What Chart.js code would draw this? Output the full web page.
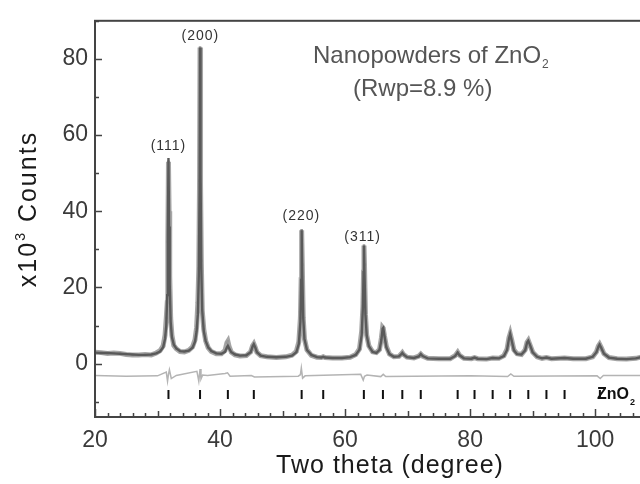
<!DOCTYPE html>
<html>
<head>
<meta charset="utf-8">
<script src="https://cdn.jsdelivr.net/npm/chart.js@4.4.1/dist/chart.umd.min.js"></script>
<style>
    html, body { margin: 0; padding: 0; background: #fff; overflow: hidden; }
    canvas { display: block; }
</style>
</head>
<body>
<canvas id="graficoXRD" width="700" height="484"></canvas>
<script>
// 2theta (deg) and intensities (x10^3 counts)
const twoTheta = [20.0, 21.0, 22.0, 23.0, 24.0, 25.0, 26.0, 27.0, 28.0, 29.0, 29.8, 30.4, 30.9, 31.2, 31.4, 31.55, 31.65, 31.75, 31.85, 31.95, 32.1, 32.3, 32.6, 33.0, 33.6, 34.3, 35.0, 35.6, 36.0, 36.25, 36.45, 36.6, 36.72, 36.8, 36.88, 37.0, 37.15, 37.4, 37.7, 38.1, 38.6, 39.4, 40.2, 40.8, 41.1, 41.25, 41.45, 41.8, 42.4, 43.2, 44.2, 44.9, 45.2, 45.4, 45.6, 45.9, 46.5, 47.5, 49.0, 50.5, 51.5, 52.2, 52.6, 52.85, 52.97, 53.05, 53.15, 53.3, 53.5, 53.9, 54.6, 55.5, 56.2, 56.5, 56.8, 58.0, 59.5, 60.8, 61.7, 62.3, 62.65, 62.85, 62.95, 63.02, 63.1, 63.25, 63.45, 63.8, 64.4, 65.0, 65.5, 65.8, 66.0, 66.1, 66.3, 66.6, 67.1, 67.8, 68.6, 69.0, 69.15, 69.35, 69.9, 71.0, 71.8, 72.1, 72.4, 73.2, 75.0, 76.8, 77.6, 78.0, 78.3, 79.0, 80.2, 80.7, 81.2, 82.6, 83.6, 84.6, 85.4, 85.9, 86.2, 86.4, 86.65, 87.0, 87.5, 88.2, 88.8, 89.1, 89.3, 89.55, 90.0, 90.7, 91.5, 92.2, 93.0, 95.1, 96.5, 98.5, 99.6, 100.2, 100.5, 100.7, 100.95, 101.4, 102.2, 103.5, 105.0, 106.5, 107.5, 108.2, 108.7, 109.2, 109.7, 110.5, 111.5, 113.0, 115.0];
const yCalc = [2.9, 2.8, 2.8, 2.7, 2.6, 2.5, 2.4, 2.3, 2.3, 2.4, 2.7, 3.2, 4.3, 6.5, 10, 18, 34, 54, 36, 21, 11, 7, 5, 4.0, 3.3, 3.2, 3.4, 4.2, 5.8, 8.5, 13, 23, 45, 83, 50, 25, 14, 8.5, 6, 4.3, 3.3, 2.7, 2.6, 3.1, 4.3, 4.7, 4.0, 3.0, 2.4, 2.1, 2.2, 3.0, 4.5, 5.1, 4.4, 3.0, 2.1, 1.8, 1.7, 1.8, 2.1, 3.0, 5.2, 11, 22, 35, 24, 12, 6.5, 3.6, 2.3, 1.7, 1.6, 1.8, 1.6, 1.5, 1.5, 1.7, 2.3, 3.7, 7.5, 15, 24, 31, 24, 13, 7.5, 4.6, 3.1, 2.8, 3.6, 6.2, 9.2, 9.4, 7.2, 4.3, 2.5, 1.8, 1.9, 2.5, 2.8, 2.4, 1.7, 1.5, 1.9, 2.5, 2.0, 1.4, 1.3, 1.3, 2.0, 2.9, 2.2, 1.4, 1.3, 1.6, 1.3, 1.2, 1.5, 1.4, 2.0, 3.6, 6.5, 7.8, 6.0, 3.5, 2.5, 2.4, 3.5, 5.5, 6.0, 5.0, 3.0, 1.8, 1.4, 1.6, 1.3, 1.5, 1.3, 1.3, 1.8, 3.0, 4.4, 5.0, 4.2, 2.6, 1.6, 1.3, 1.2, 1.4, 1.8, 2.8, 4.5, 6.0, 5.0, 3.0, 1.8, 1.5, 1.4];
const yObs = [3.0, 2.9, 2.7, 2.8, 2.7, 2.4, 2.3, 2.3, 2.4, 2.3, 2.8, 3.4, 4.7, 7.5, 12, 16, 32, 53, 40, 23, 12, 7.5, 4.8, 3.9, 3.2, 3.1, 3.5, 4.4, 6.3, 9.5, 16, 25, 48, 83, 47, 27, 14, 9, 6, 4.2, 3.2, 2.6, 2.6, 3.5, 5.5, 5.9, 4.5, 3.0, 2.3, 2.0, 2.1, 3.1, 4.7, 5.2, 4.4, 3.0, 2.1, 1.8, 1.6, 1.8, 2.2, 3.2, 5.7, 12, 22, 35, 26, 12, 6.5, 3.6, 2.2, 1.7, 1.6, 1.8, 1.6, 1.5, 1.5, 1.7, 2.4, 3.9, 8.5, 15, 24, 31, 26, 13, 7.5, 4.7, 3.1, 2.9, 3.7, 6.7, 9.5, 9.3, 7.2, 4.5, 2.5, 1.8, 1.9, 2.6, 2.9, 2.4, 1.7, 1.5, 2.0, 2.5, 2.0, 1.4, 1.3, 1.3, 2.1, 3.0, 2.2, 1.4, 1.3, 1.6, 1.3, 1.2, 1.5, 1.4, 2.1, 3.8, 6.8, 7.9, 6.2, 3.6, 2.6, 2.4, 3.6, 5.6, 6.1, 5.0, 3.0, 1.8, 1.4, 1.6, 1.3, 1.5, 1.3, 1.3, 1.8, 3.1, 4.6, 5.1, 4.3, 2.6, 1.6, 1.3, 1.2, 1.4, 1.8, 2.9, 4.7, 6.2, 5.2, 3.0, 1.8, 1.5, 1.4];

// difference curve (obs - calc, shifted)
const diffX = [20, 25, 30, 31.4, 31.6, 31.75, 31.9, 32.2, 33, 36.3, 36.6, 36.8, 36.95, 37.2, 38, 40.8, 41.2, 41.6, 45, 45.5, 52.5, 52.85, 53.0, 53.2, 53.6, 62.5, 62.9, 63.1, 63.5, 65.7, 66.1, 66.5, 80, 86, 86.5, 87, 100.3, 100.8, 101.3, 115];
const diffY = [-3.1, -3.3, -3.2, -2.2, -4.6, -2.8, -1.6, -3.9, -3.1, -2.0, -4.6, -1.4, -4.0, -3.0, -3.1, -2.6, -2.4, -3.3, -3.1, -3.5, -3.3, -2.9, -1.1, -3.8, -3.2, -2.8, -4.3, -3.3, -3.0, -3.4, -2.8, -3.4, -3.2, -3.4, -2.7, -3.3, -3.2, -3.9, -3.1, -3.1];

// Bragg reflection positions of ZnO2
const braggPos = [31.75, 36.8, 41.25, 45.4, 53.05, 56.5, 63.0, 66.05, 69.15, 72.1, 78.0, 80.7, 83.6, 86.4, 89.3, 92.2, 95.1, 100.75];
const braggNivel = -8.1;

const xTicks = [20, 40, 60, 80, 100];
const yTicks = [0, 20, 40, 60, 80];

const etiquetasPicos = ["(111)", "(200)", "(220)", "(311)"];
const picosX = [31.75, 36.85, 53.0, 62.8];
const picosY = [57.2, 85.9, 38.7, 33.3];

const fuente = "'Liberation Sans', Arial, sans-serif";

function pares(xs, ys) {
    return xs.map((x, i) => ({ x: x, y: ys[i] }));
}

const dibujoExtra = {
    id: "dibujoExtra",
    afterDraw(chart) {
        const ctx = chart.ctx;
        const area = chart.chartArea;
        const sx = chart.scales.x;
        const sy = chart.scales.y;
        ctx.save();
        ctx.strokeStyle = "#444";
        ctx.lineWidth = 1.5;
        // marcas hacia adentro, eje x
        ctx.beginPath();
        for (let v = 20; v <= 115; v += 2) {
            let px = Math.round(sx.getPixelForValue(v)) + 0.5;
            let largo = (v % 20 === 0) ? 8 : (v % 10 === 0 ? 6 : 4);
            ctx.moveTo(px, area.bottom);
            ctx.lineTo(px, area.bottom - largo);
        }
        // eje y
        for (let v = -10; v <= 90; v += 10) {
            let py = Math.round(sy.getPixelForValue(v)) + 0.5;
            let largo = (v % 20 === 0) ? 7 : 4;
            ctx.moveTo(area.left, py);
            ctx.lineTo(area.left + largo, py);
        }
        ctx.stroke();
        // marco
        ctx.lineWidth = 2;
        ctx.strokeStyle = "#444";
        ctx.strokeRect(area.left, area.top, area.right - area.left, area.bottom - area.top);

        // titulos de ejes
        ctx.fillStyle = "#1a1a1a";
        ctx.textBaseline = "alphabetic";
        ctx.textAlign = "center";
        ctx.font = "25px " + fuente;
        ctx.letterSpacing = "1px";
        ctx.fillText("Two theta (degree)", 390, 473);
        ctx.save();
        ctx.translate(36, 209);
        ctx.rotate(-Math.PI / 2);
        ctx.letterSpacing = "2px";
        ctx.font = "25px " + fuente;
        let a = ctx.measureText("x10").width;
        ctx.font = "14px " + fuente;
        let b = ctx.measureText("3").width;
        ctx.font = "25px " + fuente;
        let c = ctx.measureText(" Counts").width;
        let inicio = -(a + b + c) / 2;
        ctx.textAlign = "left";
        ctx.fillText("x10", inicio, 0);
        ctx.font = "14px " + fuente;
        ctx.fillText("3", inicio + a, -11);
        ctx.font = "25px " + fuente;
        ctx.fillText(" Counts", inicio + a + b, 0);
        ctx.restore();

        // etiquetas de picos
        ctx.fillStyle = "#333";
        ctx.font = "14px " + fuente;
        ctx.textAlign = "center";
        ctx.textBaseline = "middle";
        ctx.letterSpacing = "1px";
        etiquetasPicos.forEach((t, i) => {
            ctx.fillText(t, sx.getPixelForValue(picosX[i]), sy.getPixelForValue(picosY[i]));
        });
        ctx.letterSpacing = "0px";

        // texto de la muestra
        ctx.fillStyle = "#555";
        ctx.font = "24px " + fuente;
        ctx.textAlign = "left";
        ctx.fillText("Nanopowders of ZnO", 313, 56);
        let w = ctx.measureText("Nanopowders of ZnO").width;
        ctx.font = "12px " + fuente;
        ctx.fillText("2", 313 + w + 1, 65);
        ctx.font = "24px " + fuente;
        ctx.fillText("(Rwp=8.9 %)", 353, 89);

        // fase
        ctx.fillStyle = "#111";
        ctx.font = "bold 16px " + fuente;
        ctx.fillText("ZnO", 597, 395);
        let w2 = ctx.measureText("ZnO").width;
        ctx.font = "bold 9px " + fuente;
        ctx.fillText("2", 597 + w2 + 1, 403);
        ctx.restore();
    }
};

new Chart(document.getElementById("graficoXRD"), {
    type: "line",
    data: {
        datasets: [
            {
                label: "Diferencia",
                data: pares(diffX, diffY),
                borderColor: "#b4b4b4",
                borderWidth: 1.5,
                pointRadius: 0,
                tension: 0,
                order: 4
            },
            {
                label: "Observado",
                data: pares(twoTheta, yObs),
                borderColor: "#a6a6a6",
                borderWidth: 5,
                pointStyle: "rect",
                pointRadius: 1.8,
                pointBackgroundColor: "#9a9a9a",
                pointBorderWidth: 0,
                tension: 0,
                order: 3
            },
            {
                label: "Calculado",
                data: pares(twoTheta, yCalc),
                borderColor: "#5a5a5a",
                borderWidth: 2.4,
                pointRadius: 0,
                tension: 0,
                order: 2
            },
            {
                label: "Bragg",
                data: braggPos.map(x => ({ x: x, y: braggNivel })),
                showLine: false,
                pointStyle: "line",
                rotation: 90,
                pointRadius: 4.5,
                borderColor: "#111",
                borderWidth: 2,
                order: 1
            }
        ]
    },
    options: {
        responsive: false,
        animation: false,
        layout: { padding: { top: 12, right: 11, left: 0, bottom: 0 } },
        plugins: {
            legend: { display: false },
            tooltip: { enabled: false }
        },
        scales: {
            x: {
                type: "linear",
                min: 20,
                max: 115,
                grid: { display: false, drawTicks: false },
                border: { display: false },
                afterBuildTicks: (scale) => { scale.ticks = xTicks.map(v => ({ value: v })); },
                afterFit: (scale) => { scale.height = 67; },
                ticks: {
                    color: "#3a3a3a",
                    padding: 10,
                    maxRotation: 0,
                    font: { family: fuente, size: 23 }
                }
            },
            y: {
                min: -14,
                max: 90,
                grid: { display: false, drawTicks: false },
                border: { display: false },
                afterBuildTicks: (scale) => { scale.ticks = yTicks.map(v => ({ value: v })); },
                afterFit: (scale) => { scale.width = 95; },
                ticks: {
                    color: "#3a3a3a",
                    padding: 7,
                    font: { family: fuente, size: 23 }
                }
            }
        }
    },
    plugins: [dibujoExtra]
});
</script>
</body>
</html>
